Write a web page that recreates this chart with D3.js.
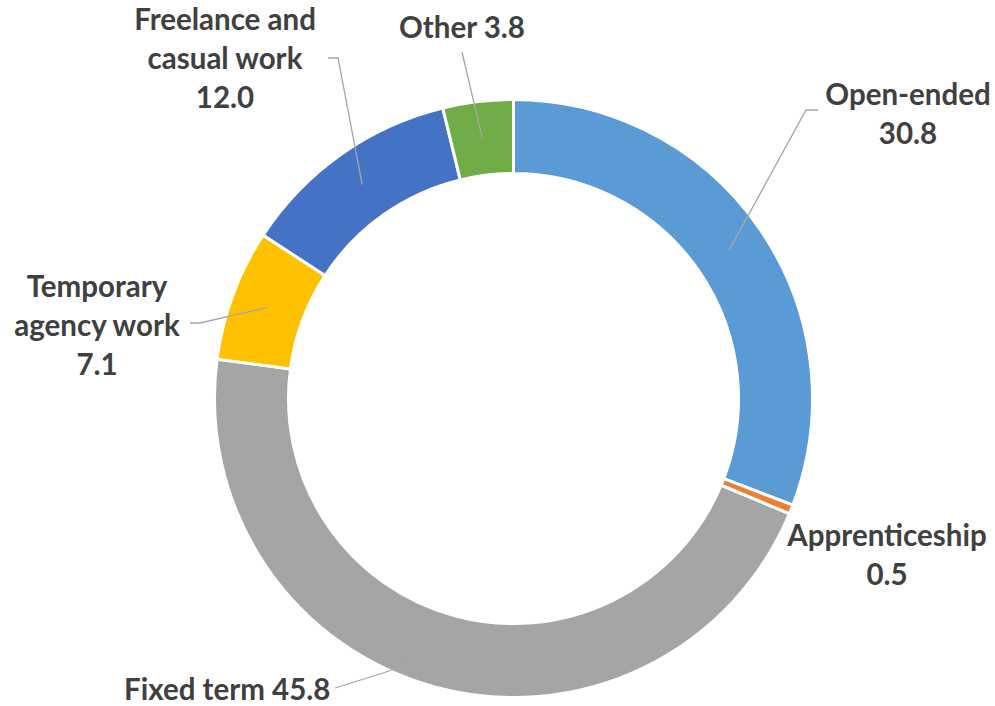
<!DOCTYPE html>
<html>
<head>
    <meta charset="utf-8">
    <title>contract-types-donut</title>
    <style>
body { margin: 0; background: #fff; }
.label { font-family: Lato, "Open Sans", sans-serif; font-weight: 700; fill: #404040; }
.leader { fill: none; stroke: #a6a6a6; stroke-width: 1.3; }
</style>
</head>
<body>
<script src="https://cdn.jsdelivr.net/npm/d3@7"></script>
<script>
    // Data (percent shares, clockwise from 12 o'clock)
    var categories = ["Open-ended", "Apprenticeship", "Fixed term", "Temporary agency work", "Freelance and casual work", "Other"];
    var values = [30.8, 0.5, 45.8, 7.1, 12.0, 3.8];
    var colors = ["#5b9bd5", "#ed7d31", "#a5a5a5", "#ffc000", "#4472c4", "#70ad47"];

    // How each label is broken into lines
    var labelLines = [
        ["Open-ended", "30.8"],
        ["Apprenticeship", "0.5"],
        ["Fixed term 45.8"],
        ["Temporary", "agency work", "7.1"],
        ["Freelance and", "casual work", "12.0"],
        ["Other 3.8"]
    ];

    var totalWidth = 995, totalHeight = 706;
    var cx = 513.5, cy = 398.5;
    var outerR = 299, innerR = 225;

    // label layout: text centre x, first baseline y, anchor, and leader elbow/end points
    var labelLayout = [
        { x: 908, y: 105, anchor: "middle", elbow: [806, 110], end: [818, 110] },
        { x: 887, y: 546, anchor: "middle", elbow: null, end: null },
        { x: 124, y: 700, anchor: "start", elbow: [383, 673], end: [335, 688] },
        { x: 97, y: 297, anchor: "middle", elbow: [200, 323], end: [190, 323] },
        { x: 225, y: 30, anchor: "middle", elbow: [338, 58], end: [328, 58] },
        { x: 462, y: 38, anchor: "middle", elbow: [462, 52], end: [462, 52] }
    ];

    var svg = d3.select("body").append("svg")
        .attr("width", totalWidth)
        .attr("height", totalHeight);

    var g = svg.append("g")
        .attr("transform", "translate(" + cx + "," + cy + ")");

    var data = categories.map(function (c, i) { return { name: c, value: values[i], i: i }; });

    var pie = d3.pie()
        .sort(null)
        .value(function (d) { return d.value; });

    var arc = d3.arc()
        .innerRadius(innerR)
        .outerRadius(outerR);

    var arcs = pie(data);

    g.selectAll(".slice")
        .data(arcs)
        .enter()
        .append("path")
        .attr("class", "slice")
        .attr("d", arc)
        .attr("fill", function (d) { return colors[d.data.i]; })
        .attr("stroke", "#fff")
        .attr("stroke-width", 3);

    // leader lines from slice centroid to the label
    arcs.forEach(function (a) {
        var lay = labelLayout[a.data.i];
        if (!lay.elbow) return;
        var c = arc.centroid(a);
        var pts = [[c[0] + cx, c[1] + cy], lay.elbow, lay.end];
        svg.append("path")
            .attr("class", "leader")
            .attr("d", d3.line()(pts));
    });

    // labels
    var lineH = 39;
    labelLines.forEach(function (lines, i) {
        var lay = labelLayout[i];
        var t = svg.append("text")
            .attr("class", "label")
            .attr("text-anchor", lay.anchor)
            .style("font-size", "29.5px");
        lines.forEach(function (s, k) {
            t.append("tspan")
                .attr("x", lay.x)
                .attr("y", lay.y + k * lineH)
                .text(s);
        });
    });
</script>
</body>
</html>
